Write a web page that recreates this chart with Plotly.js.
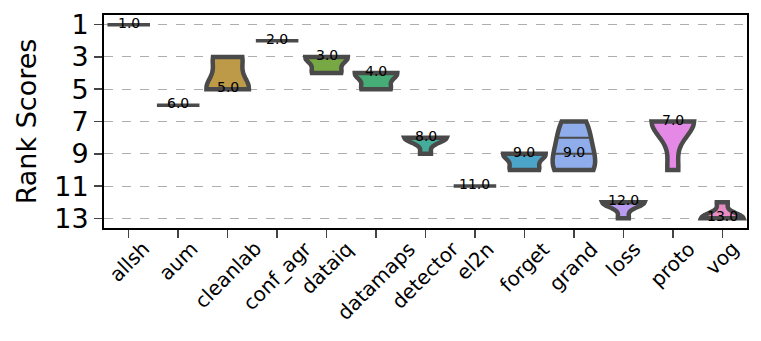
<!DOCTYPE html>
<html>
<head>
<meta charset="utf-8">
<script src="https://cdn.plot.ly/plotly-3.0.1.min.js"></script>
<style>
  html, body { margin: 0; padding: 0; background: #fff; }
  #chart { width: 761px; height: 341px; }
</style>
</head>
<body>
<div id="chart"></div>
<script>
(function () {
    'use strict';

    // rank of each method over the benchmark runs
    var METHODS = ['allsh', 'aum', 'cleanlab', 'conf_agr', 'dataiq', 'datamaps', 'detector',
                   'el2n', 'forget', 'grand', 'loss', 'proto', 'vog'];
    var ALLSH = [1, 1, 1, 1, 1];
    var AUM = [6, 6, 6, 6, 6];
    var CLEANLAB = [3, 3, 5, 5, 5];
    var CONF_AGR = [2, 2, 2, 2, 2];
    var DATAIQ = [3, 3, 3, 4, 4];
    var DATAMAPS = [4, 4, 4, 5, 5];
    var DETECTOR = [8, 8, 8, 8, 9];
    var EL2N = [11, 11, 11, 11, 11];
    var FORGET = [9, 9, 9, 10, 10];
    var GRAND = [7, 8, 9, 10, 10];
    var LOSS = [12, 12, 12, 12, 13];
    var PROTO = [7, 7, 7, 7, 10];
    var VOG = [12, 13, 13, 13, 13];
    var RANKS = [ALLSH, AUM, CLEANLAB, CONF_AGR, DATAIQ, DATAMAPS, DETECTOR,
                 EL2N, FORGET, GRAND, LOSS, PROTO, VOG];
    var Y_TICKS = [1, 3, 5, 7, 9, 11, 13];

    var COLORS = ['#d7848f', '#d08b63', '#bd9a48', '#a3a046', '#77a843', '#47ad77', '#46ac9a',
                  '#48a9b2', '#4ba5c8', '#8fadea', '#b99cef', '#e489e5', '#e98cc3'];
    var EDGE = '#4a4a4a';
    var FONT = 'DejaVu Sans, sans-serif';
    var WIDTH = 0.86;

    function sorted(a) { return a.slice().sort(function (p, q) { return p - q; }); }

    // linear percentile, like np.percentile
    function pct(a, p) {
        var s = sorted(a), pos = (s.length - 1) * p, lo = Math.floor(pos);
        return lo + 1 < s.length ? s[lo] + (s[lo + 1] - s[lo]) * (pos - lo) : s[lo];
    }

    // scott's rule, same as scipy gaussian_kde used by seaborn
    function scott(a) {
        var n = a.length, mean = a.reduce(function (s, v) { return s + v; }, 0) / n;
        var ss = a.reduce(function (s, v) { return s + (v - mean) * (v - mean); }, 0);
        return Math.sqrt(ss / (n - 1)) * Math.pow(n, -0.2);
    }

    function kde(a, h, t) {
        return a.reduce(function (s, v) { var z = (t - v) / h; return s + Math.exp(-z * z / 2); }, 0);
    }

    var traces = [], notes = [];
    var qx = [], qy = [];
    METHODS.forEach(function (name, i) {
        var vals = RANKS[i];
        var xs = vals.map(function () { return name; });
        var lo = Math.min.apply(null, vals), hi = Math.max.apply(null, vals);
        var med = pct(vals, 0.5);
        if (lo === hi) {
            // zero-variance group: seaborn draws just a line
            traces.push({
                type: 'box', x: xs, y: vals, width: WIDTH, boxpoints: false,
                line: { color: EDGE, width: 3.5 }, fillcolor: COLORS[i],
                showlegend: false, hoverinfo: 'skip',
            });
        } else {
            var h = scott(vals);
            traces.push({
                type: 'violin', x: xs, y: vals, width: WIDTH, spanmode: 'hard',
                bandwidth: h, scalemode: 'width', points: false,
                line: { color: EDGE, width: 4.5 }, fillcolor: COLORS[i], opacity: 1,
                showlegend: false, hoverinfo: 'skip',
            });
            // inner quartile lines, half-width from the same kde
            var peak = 0;
            for (var k = 0; k <= 200; k++) peak = Math.max(peak, kde(vals, h, lo + (hi - lo) * k / 200));
            [0.25, 0.5, 0.75].forEach(function (p) {
                var q = pct(vals, p), hw = WIDTH / 2 * kde(vals, h, q) / peak;
                qx.push(i - hw, i + hw, null);
                qy.push(q, q, null);
            });
        }
        notes.push({
            x: name, y: med, text: med.toFixed(1),
            showarrow: false, yshift: 2,
            font: { family: FONT, size: 14, color: '#000' },
        });
        // tick label centred under the tick, like matplotlib rotation=45
        notes.push({
            x: name, y: 0, yref: 'paper', text: name, textangle: -45,
            xanchor: 'center', yanchor: 'top', yshift: -6, showarrow: false,
            font: { family: FONT, size: 20, color: '#000' },
        });
    });
    traces.push({
        type: 'scatter', mode: 'lines', x: qx, y: qy, xaxis: 'x2',
        line: { color: EDGE, width: 2 }, showlegend: false, hoverinfo: 'skip',
    });

    var layout = {
        width: 761, height: 341,
        margin: { l: 104, r: 14, t: 15, b: 113 },
        paper_bgcolor: '#fff', plot_bgcolor: '#fff',
        font: { family: FONT, color: '#000' },
        showlegend: false, violinmode: 'overlay', boxmode: 'overlay',
        xaxis: {
            type: 'category', range: [-0.5, 12.5], showticklabels: false,
            ticks: 'outside', ticklen: 8, tickwidth: 1.5,
            showline: true, linecolor: '#000', linewidth: 2, mirror: true,
            showgrid: false, zeroline: false,
        },
        xaxis2: { overlaying: 'x', range: [-0.5, 12.5], visible: false },
        yaxis: {
            title: { text: 'Rank Scores', font: { size: 27 }, standoff: 10 },
            range: [13.6, 0.4], tickvals: Y_TICKS, tickfont: { size: 27 },
            ticks: 'outside', ticklen: 8, tickwidth: 1.5,
            showline: true, linecolor: '#000', linewidth: 2, mirror: true,
            showgrid: true, gridcolor: '#9a9a9a', gridwidth: 0.8, griddash: 'dash',
            zeroline: false,
        },
        annotations: notes,
    };

    Plotly.newPlot('chart', traces, layout, { displayModeBar: false, staticPlot: true });
})();
</script>
</body>
</html>
